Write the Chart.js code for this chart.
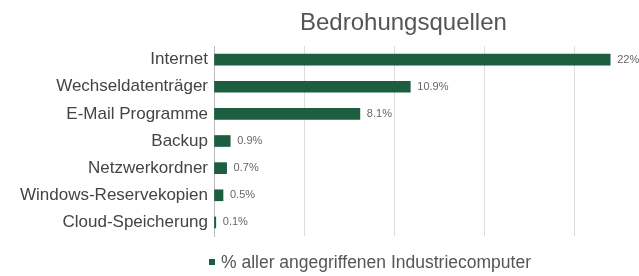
<!DOCTYPE html>
<html>
<head>
<meta charset="utf-8">
<script src="https://cdn.jsdelivr.net/npm/chart.js@4/dist/chart.umd.min.js"></script>
<style>
  html, body { margin: 0; padding: 0; background: #fff; }
  #wrap { position: relative; width: 639px; height: 276px; font-family: "Liberation Sans", Arial, sans-serif; }
  #title { position: absolute; left: 300px; top: 8px; font-size: 24px; color: #555; white-space: nowrap; }
  #legend { position: absolute; left: 209px; top: 252px; font-size: 17.5px; color: #555; white-space: nowrap; }
  #legend i { display: inline-block; width: 6px; height: 6px; background: #1d5e41; margin-right: 6px; vertical-align: 3px; }
  canvas { position: absolute; left: 0; top: 0; }
</style>
</head>
<body>
<div id="wrap">
  <canvas id="c" width="639" height="276"></canvas>
  <div id="title">Bedrohungsquellen</div>
  <div id="legend"><i></i>% aller angegriffenen Industriecomputer</div>
</div>
<script>
var categories = ['Internet', 'Wechseldatenträger', 'E-Mail Programme', 'Backup', 'Netzwerkordner', 'Windows-Reservekopien', 'Cloud-Speicherung'];
var values = [22, 10.9, 8.1, 0.9, 0.7, 0.5, 0.1];
var valueLabels = ['22%', '10.9%', '8.1%', '0.9%', '0.7%', '0.5%', '0.1%'];
var seriesName = '% aller angegriffenen Industriecomputer';

var barLabels = {
  id: 'barLabels',
  afterDatasetsDraw: function (chart) {
    var ctx = chart.ctx;
    var meta = chart.getDatasetMeta(0);
    ctx.save();
    ctx.font = '11px "Liberation Sans", Arial, sans-serif';
    ctx.fillStyle = '#666';
    ctx.textBaseline = 'middle';
    meta.data.forEach(function (bar, i) {
      ctx.fillText(valueLabels[i], bar.x + 7, bar.y);
    });
    ctx.restore();
  }
};

new Chart(document.getElementById('c').getContext('2d'), {
  type: 'bar',
  data: {
    labels: categories,
    datasets: [{
      label: seriesName,
      data: values,
      backgroundColor: '#1d5e41',
      barThickness: 11
    }]
  },
  options: {
    indexAxis: 'y',
    responsive: false,
    animation: false,
    layout: { padding: { top: 46, bottom: 40, left: 0, right: 0 } },
    plugins: { legend: { display: false }, title: { display: false }, tooltip: { enabled: false } },
    scales: {
      x: {
        min: 0, max: 23.6,
        ticks: { display: false, stepSize: 5 },
        grid: { color: '#dcdcdc', drawTicks: false },
        border: { display: false },
        afterFit: function (s) { s.height = 0; }
      },
      y: {
        ticks: { color: '#444', padding: 6, font: { size: 17, family: '"Liberation Sans", Arial, sans-serif' } },
        grid: { display: false, drawTicks: false },
        border: { display: true, color: '#bbb' },
        afterFit: function (s) { s.width = 214; }
      }
    }
  },
  plugins: [barLabels]
});
</script>
</body>
</html>
